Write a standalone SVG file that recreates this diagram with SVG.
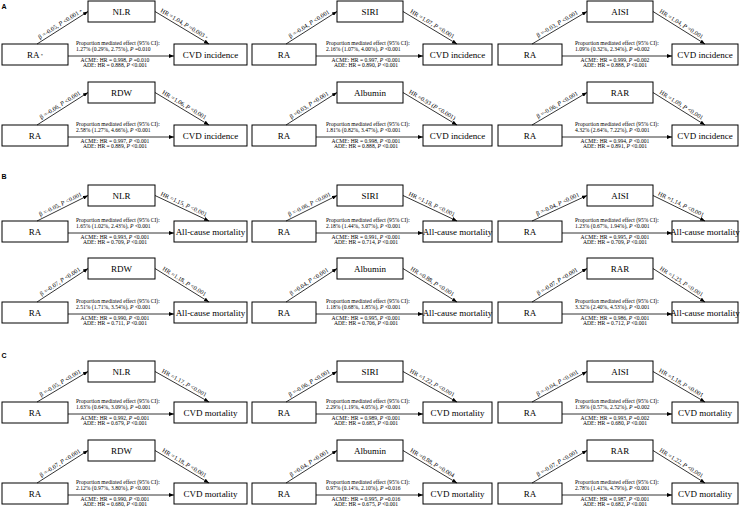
<svg xmlns="http://www.w3.org/2000/svg" width="740" height="510" viewBox="0 0 740 510">
<style>
.box{fill:#fff;stroke:#000;stroke-width:1}
.lbl{font-family:"Liberation Serif","Times New Roman",serif;font-size:9px;text-anchor:middle;fill:#000}
.t{font-family:"Liberation Serif","Times New Roman",serif;font-size:5.6px;fill:#000}
.c{text-anchor:middle}
.ar{font-size:6.2px}
.i{font-style:italic}
.m{font-size:4.5px}
.arr{stroke:#000;stroke-width:0.8;fill:none;marker-end:url(#ah)}
.sec{font-family:"Liberation Sans",Arial,sans-serif;font-weight:bold;font-size:7px;fill:#000}
</style>
<defs>
<marker id="ah" markerUnits="userSpaceOnUse" markerWidth="5" markerHeight="4" refX="5" refY="2" orient="auto">
<path d="M0,0 L5,2 L0,4 Z" fill="#000"/>
</marker>
</defs>

<!-- section letters -->
<text class="sec" x="1.5" y="8.5">A</text>
<text class="sec" x="1.5" y="178.5">B</text>
<text class="sec" x="1.5" y="357.5">C</text>

<!-- ===== A: CVD incidence ===== -->
<g id="a11">
<g id="a11-ra"><rect class="box" x="2" y="44" width="66" height="21"/><text class="lbl" x="35" y="57.7">RA<tspan class="m" dx="1" dy="-0.5">*</tspan></text></g>
<g id="a11-med"><rect class="box" x="88" y="1" width="67" height="21"/><text class="lbl" x="121.5" y="14.7">NLR</text></g>
<g id="a11-out"><rect class="box" x="174" y="44" width="73" height="21"/><text class="lbl" x="210.5" y="57.7">CVD incidence</text></g>
<g id="a11-links">
<path id="a11-p1" class="arr" d="M37,44 L88,11.5"/>
<path id="a11-p2" class="arr" d="M155,11.5 L209,44"/>
<path class="arr" d="M68,56 L174,56"/>
<text class="t ar"><textPath href="#a11-p1" startOffset="50%" text-anchor="middle"><tspan dy="-2.5">β =-0.05, <tspan class="i">P</tspan> &lt;0.001 <tspan class="m">*</tspan></tspan></textPath></text>
<text class="t ar"><textPath href="#a11-p2" startOffset="50%" text-anchor="middle"><tspan dy="-2.5">HR =1.04, <tspan class="i">P</tspan> =0.003 <tspan class="m">*</tspan></tspan></textPath></text>
<text class="t" x="76" y="44.8">Proportion mediated effect (95% CI):</text>
<text class="t" x="76" y="50.6">1.27% (0.29%, 2.75%), <tspan class="i">P</tspan> =0.010</text>
<text class="t c" x="115" y="61.8">ACME: HR = 0.998, <tspan class="i">P</tspan> =0.010</text>
<text class="t c" x="115" y="67">ADE: HR = 0.888, <tspan class="i">P</tspan> &lt;0.001</text>
</g>
</g>

<g id="a12">
<g id="a12-ra"><rect class="box" x="252" y="44" width="64" height="21"/><text class="lbl" x="284" y="57.7">RA</text></g>
<g id="a12-med"><rect class="box" x="337" y="1" width="66" height="21"/><text class="lbl" x="370" y="14.7">SIRI</text></g>
<g id="a12-out"><rect class="box" x="423" y="44" width="69" height="21"/><text class="lbl" x="457.5" y="57.7">CVD incidence</text></g>
<g id="a12-links">
<path id="a12-p1" class="arr" d="M286,44 L337,11.5"/>
<path id="a12-p2" class="arr" d="M403,11.5 L457,44"/>
<path class="arr" d="M316,56 L423,56"/>
<text class="t ar"><textPath href="#a12-p1" startOffset="50%" text-anchor="middle"><tspan dy="-2.5">β =-0.04, <tspan class="i">P</tspan> &lt;0.001</tspan></textPath></text>
<text class="t ar"><textPath href="#a12-p2" startOffset="50%" text-anchor="middle"><tspan dy="-2.5">HR =1.07, <tspan class="i">P</tspan> &lt;0.001</tspan></textPath></text>
<text class="t" x="326" y="44.8">Proportion mediated effect (95% CI):</text>
<text class="t" x="326" y="50.6">2.16% (1.07%, 4.00%), <tspan class="i">P</tspan> &lt;0.001</text>
<text class="t c" x="366" y="61.8">ACME: HR = 0.997, <tspan class="i">P</tspan> &lt;0.001</text>
<text class="t c" x="366" y="67">ADE: HR = 0.890, <tspan class="i">P</tspan> &lt;0.001</text>
</g>
</g>

<g id="a13">
<g id="a13-ra"><rect class="box" x="498" y="44" width="64" height="21"/><text class="lbl" x="530" y="57.7">RA</text></g>
<g id="a13-med"><rect class="box" x="587" y="1" width="66" height="21"/><text class="lbl" x="620" y="14.7">AISI</text></g>
<g id="a13-out"><rect class="box" x="672" y="44" width="66" height="21"/><text class="lbl" x="705" y="57.7">CVD incidence</text></g>
<g id="a13-links">
<path id="a13-p1" class="arr" d="M532,44 L587,11.5"/>
<path id="a13-p2" class="arr" d="M653,11.5 L705,44"/>
<path class="arr" d="M562,56 L672,56"/>
<text class="t ar"><textPath href="#a13-p1" startOffset="50%" text-anchor="middle"><tspan dy="-2.5">β =-0.03, <tspan class="i">P</tspan> &lt;0.001</tspan></textPath></text>
<text class="t ar"><textPath href="#a13-p2" startOffset="50%" text-anchor="middle"><tspan dy="-2.5">HR =1.04, <tspan class="i">P</tspan> =0.001</tspan></textPath></text>
<text class="t" x="575" y="44.8">Proportion mediated effect (95% CI):</text>
<text class="t" x="575" y="50.6">1.09% (0.32%, 2.34%), <tspan class="i">P</tspan> =0.002</text>
<text class="t c" x="615" y="61.8">ACME: HR = 0.999, <tspan class="i">P</tspan> =0.002</text>
<text class="t c" x="615" y="67">ADE: HR = 0.888, <tspan class="i">P</tspan> &lt;0.001</text>
</g>
</g>

<g id="a21">
<g id="a21-ra"><rect class="box" x="2" y="125" width="66" height="21"/><text class="lbl" x="35" y="138.7">RA</text></g>
<g id="a21-med"><rect class="box" x="88" y="82" width="67" height="21"/><text class="lbl" x="121.5" y="95.7">RDW</text></g>
<g id="a21-out"><rect class="box" x="174" y="125" width="73" height="21"/><text class="lbl" x="210.5" y="138.7">CVD incidence</text></g>
<g id="a21-links">
<path id="a21-p1" class="arr" d="M37,125 L88,92.5"/>
<path id="a21-p2" class="arr" d="M155,92.5 L209,125"/>
<path class="arr" d="M68,137 L174,137"/>
<text class="t ar"><textPath href="#a21-p1" startOffset="50%" text-anchor="middle"><tspan dy="-2.5">β =-0.06, <tspan class="i">P</tspan> &lt;0.001</tspan></textPath></text>
<text class="t ar"><textPath href="#a21-p2" startOffset="50%" text-anchor="middle"><tspan dy="-2.5">HR =1.06, <tspan class="i">P</tspan> &lt;0.001</tspan></textPath></text>
<text class="t" x="76" y="125.8">Proportion mediated effect (95% CI):</text>
<text class="t" x="76" y="131.6">2.58% (1.27%, 4.66%), <tspan class="i">P</tspan> &lt;0.001</text>
<text class="t c" x="115" y="142.8">ACME: HR = 0.997, <tspan class="i">P</tspan> &lt;0.001</text>
<text class="t c" x="115" y="148">ADE: HR = 0.889, <tspan class="i">P</tspan> &lt;0.001</text>
</g>
</g>

<g id="a22">
<g id="a22-ra"><rect class="box" x="252" y="125" width="64" height="21"/><text class="lbl" x="284" y="138.7">RA</text></g>
<g id="a22-med"><rect class="box" x="337" y="82" width="66" height="21"/><text class="lbl" x="370" y="95.7">Albumin</text></g>
<g id="a22-out"><rect class="box" x="423" y="125" width="69" height="21"/><text class="lbl" x="457.5" y="138.7">CVD incidence</text></g>
<g id="a22-links">
<path id="a22-p1" class="arr" d="M286,125 L337,92.5"/>
<path id="a22-p2" class="arr" d="M403,92.5 L457,125"/>
<path class="arr" d="M316,137 L423,137"/>
<text class="t ar"><textPath href="#a22-p1" startOffset="50%" text-anchor="middle"><tspan dy="-2.5">β =0.03, <tspan class="i">P</tspan> &lt;0.001</tspan></textPath></text>
<text class="t ar"><textPath href="#a22-p2" startOffset="50%" text-anchor="middle"><tspan dy="-2.5">HR =0.93 (<tspan class="i">P</tspan> &lt;0.001)</tspan></textPath></text>
<text class="t" x="326" y="125.8">Proportion mediated effect (95% CI):</text>
<text class="t" x="326" y="131.6">1.81% (0.82%, 3.47%), <tspan class="i">P</tspan> &lt;0.001</text>
<text class="t c" x="366" y="142.8">ACME: HR = 0.998, <tspan class="i">P</tspan> &lt;0.001</text>
<text class="t c" x="366" y="148">ADE: HR = 0.888, <tspan class="i">P</tspan> &lt;0.001</text>
</g>
</g>

<g id="a23">
<g id="a23-ra"><rect class="box" x="498" y="125" width="64" height="21"/><text class="lbl" x="530" y="138.7">RA</text></g>
<g id="a23-med"><rect class="box" x="587" y="82" width="66" height="21"/><text class="lbl" x="620" y="95.7">RAR</text></g>
<g id="a23-out"><rect class="box" x="672" y="125" width="66" height="21"/><text class="lbl" x="705" y="138.7">CVD incidence</text></g>
<g id="a23-links">
<path id="a23-p1" class="arr" d="M532,125 L587,92.5"/>
<path id="a23-p2" class="arr" d="M653,92.5 L705,125"/>
<path class="arr" d="M562,137 L672,137"/>
<text class="t ar"><textPath href="#a23-p1" startOffset="50%" text-anchor="middle"><tspan dy="-2.5">β =-0.06, <tspan class="i">P</tspan> &lt;0.001</tspan></textPath></text>
<text class="t ar"><textPath href="#a23-p2" startOffset="50%" text-anchor="middle"><tspan dy="-2.5">HR =1.09, <tspan class="i">P</tspan> &lt;0.001</tspan></textPath></text>
<text class="t" x="575" y="125.8">Proportion mediated effect (95% CI):</text>
<text class="t" x="575" y="131.6">4.32% (2.64%, 7.22%), <tspan class="i">P</tspan> &lt;0.001</text>
<text class="t c" x="615" y="142.8">ACME: HR = 0.994, <tspan class="i">P</tspan> &lt;0.001</text>
<text class="t c" x="615" y="148">ADE: HR = 0.891, <tspan class="i">P</tspan> &lt;0.001</text>
</g>
</g>

<!-- ===== B: all-cause mortality ===== -->
<g id="b11">
<g id="b11-ra"><rect class="box" x="2" y="221" width="66" height="21"/><text class="lbl" x="35" y="234.7">RA</text></g>
<g id="b11-med"><rect class="box" x="88" y="185" width="67" height="21"/><text class="lbl" x="121.5" y="198.7">NLR</text></g>
<g id="b11-out"><rect class="box" x="174" y="221" width="73" height="21"/><text class="lbl" x="210.5" y="234.7">All-cause mortality</text></g>
<g id="b11-links">
<path id="b11-p1" class="arr" d="M37,221 L88,195.5"/>
<path id="b11-p2" class="arr" d="M155,195.5 L209,221"/>
<path class="arr" d="M68,233 L174,233"/>
<text class="t ar"><textPath href="#b11-p1" startOffset="50%" text-anchor="middle"><tspan dy="-2.5">β =-0.05, <tspan class="i">P</tspan> &lt;0.001</tspan></textPath></text>
<text class="t ar"><textPath href="#b11-p2" startOffset="50%" text-anchor="middle"><tspan dy="-2.5">HR =1.15, <tspan class="i">P</tspan> &lt;0.001</tspan></textPath></text>
<text class="t" x="76" y="221.8">Proportion mediated effect (95% CI):</text>
<text class="t" x="76" y="227.6">1.65% (1.02%, 2.43%), <tspan class="i">P</tspan> &lt;0.001</text>
<text class="t c" x="115" y="238.8">ACME: HR = 0.993, <tspan class="i">P</tspan> &lt;0.001</text>
<text class="t c" x="115" y="244">ADE: HR = 0.709, <tspan class="i">P</tspan> &lt;0.001</text>
</g>
</g>

<g id="b12">
<g id="b12-ra"><rect class="box" x="252" y="221" width="64" height="21"/><text class="lbl" x="284" y="234.7">RA</text></g>
<g id="b12-med"><rect class="box" x="337" y="185" width="66" height="21"/><text class="lbl" x="370" y="198.7">SIRI</text></g>
<g id="b12-out"><rect class="box" x="423" y="221" width="69" height="21"/><text class="lbl" x="457.5" y="234.7">All-cause mortality</text></g>
<g id="b12-links">
<path id="b12-p1" class="arr" d="M286,221 L337,195.5"/>
<path id="b12-p2" class="arr" d="M403,195.5 L457,221"/>
<path class="arr" d="M316,233 L423,233"/>
<text class="t ar"><textPath href="#b12-p1" startOffset="50%" text-anchor="middle"><tspan dy="-2.5">β =-0.06, <tspan class="i">P</tspan> &lt;0.001</tspan></textPath></text>
<text class="t ar"><textPath href="#b12-p2" startOffset="50%" text-anchor="middle"><tspan dy="-2.5">HR =1.18, <tspan class="i">P</tspan> &lt;0.001</tspan></textPath></text>
<text class="t" x="326" y="221.8">Proportion mediated effect (95% CI):</text>
<text class="t" x="326" y="227.6">2.18% (1.44%, 3.07%), <tspan class="i">P</tspan> &lt;0.001</text>
<text class="t c" x="366" y="238.8">ACME: HR = 0.991, <tspan class="i">P</tspan> &lt;0.001</text>
<text class="t c" x="366" y="244">ADE: HR = 0.714, <tspan class="i">P</tspan> &lt;0.001</text>
</g>
</g>

<g id="b13">
<g id="b13-ra"><rect class="box" x="498" y="221" width="64" height="21"/><text class="lbl" x="530" y="234.7">RA</text></g>
<g id="b13-med"><rect class="box" x="587" y="185" width="66" height="21"/><text class="lbl" x="620" y="198.7">AISI</text></g>
<g id="b13-out"><rect class="box" x="672" y="221" width="66" height="21"/><text class="lbl" x="705" y="234.7">All-cause mortality</text></g>
<g id="b13-links">
<path id="b13-p1" class="arr" d="M532,221 L587,195.5"/>
<path id="b13-p2" class="arr" d="M653,195.5 L705,221"/>
<path class="arr" d="M562,233 L672,233"/>
<text class="t ar"><textPath href="#b13-p1" startOffset="50%" text-anchor="middle"><tspan dy="-2.5">β =-0.04, <tspan class="i">P</tspan> &lt;0.001</tspan></textPath></text>
<text class="t ar"><textPath href="#b13-p2" startOffset="50%" text-anchor="middle"><tspan dy="-2.5">HR =1.14, <tspan class="i">P</tspan> &lt;0.001</tspan></textPath></text>
<text class="t" x="575" y="221.8">Proportion mediated effect (95% CI):</text>
<text class="t" x="575" y="227.6">1.23% (0.67%, 1.94%), <tspan class="i">P</tspan> &lt;0.001</text>
<text class="t c" x="615" y="238.8">ACME: HR = 0.995, <tspan class="i">P</tspan> &lt;0.001</text>
<text class="t c" x="615" y="244">ADE: HR = 0.709, <tspan class="i">P</tspan> &lt;0.001</text>
</g>
</g>

<g id="b21">
<g id="b21-ra"><rect class="box" x="2" y="302" width="66" height="21"/><text class="lbl" x="35" y="315.7">RA</text></g>
<g id="b21-med"><rect class="box" x="88" y="258" width="67" height="21"/><text class="lbl" x="121.5" y="271.7">RDW</text></g>
<g id="b21-out"><rect class="box" x="174" y="302" width="73" height="21"/><text class="lbl" x="210.5" y="315.7">All-cause mortality</text></g>
<g id="b21-links">
<path id="b21-p1" class="arr" d="M37,302 L88,268.5"/>
<path id="b21-p2" class="arr" d="M155,268.5 L209,302"/>
<path class="arr" d="M68,314 L174,314"/>
<text class="t ar"><textPath href="#b21-p1" startOffset="50%" text-anchor="middle"><tspan dy="-2.5">β =-0.07, <tspan class="i">P</tspan> &lt;0.001</tspan></textPath></text>
<text class="t ar"><textPath href="#b21-p2" startOffset="50%" text-anchor="middle"><tspan dy="-2.5">HR =1.18, <tspan class="i">P</tspan> &lt;0.001</tspan></textPath></text>
<text class="t" x="76" y="302.8">Proportion mediated effect (95% CI):</text>
<text class="t" x="76" y="308.6">2.51% (1.71%, 3.54%), <tspan class="i">P</tspan> &lt;0.001</text>
<text class="t c" x="115" y="319.8">ACME: HR = 0.990, <tspan class="i">P</tspan> &lt;0.001</text>
<text class="t c" x="115" y="325">ADE: HR = 0.711, <tspan class="i">P</tspan> &lt;0.001</text>
</g>
</g>

<g id="b22">
<g id="b22-ra"><rect class="box" x="252" y="302" width="64" height="21"/><text class="lbl" x="284" y="315.7">RA</text></g>
<g id="b22-med"><rect class="box" x="337" y="258" width="66" height="21"/><text class="lbl" x="370" y="271.7">Albumin</text></g>
<g id="b22-out"><rect class="box" x="423" y="302" width="69" height="21"/><text class="lbl" x="457.5" y="315.7">All-cause mortality</text></g>
<g id="b22-links">
<path id="b22-p1" class="arr" d="M286,302 L337,268.5"/>
<path id="b22-p2" class="arr" d="M403,268.5 L457,302"/>
<path class="arr" d="M316,314 L423,314"/>
<text class="t ar"><textPath href="#b22-p1" startOffset="50%" text-anchor="middle"><tspan dy="-2.5">β =0.04, <tspan class="i">P</tspan> &lt;0.001</tspan></textPath></text>
<text class="t ar"><textPath href="#b22-p2" startOffset="50%" text-anchor="middle"><tspan dy="-2.5">HR =0.88, <tspan class="i">P</tspan> &lt;0.001</tspan></textPath></text>
<text class="t" x="326" y="302.8">Proportion mediated effect (95% CI):</text>
<text class="t" x="326" y="308.6">1.18% (0.68%, 1.85%), <tspan class="i">P</tspan> &lt;0.001</text>
<text class="t c" x="366" y="319.8">ACME: HR = 0.995, <tspan class="i">P</tspan> &lt;0.001</text>
<text class="t c" x="366" y="325">ADE: HR = 0.706, <tspan class="i">P</tspan> &lt;0.001</text>
</g>
</g>

<g id="b23">
<g id="b23-ra"><rect class="box" x="498" y="302" width="64" height="21"/><text class="lbl" x="530" y="315.7">RA</text></g>
<g id="b23-med"><rect class="box" x="587" y="258" width="66" height="21"/><text class="lbl" x="620" y="271.7">RAR</text></g>
<g id="b23-out"><rect class="box" x="672" y="302" width="66" height="21"/><text class="lbl" x="705" y="315.7">All-cause mortality</text></g>
<g id="b23-links">
<path id="b23-p1" class="arr" d="M532,302 L587,268.5"/>
<path id="b23-p2" class="arr" d="M653,268.5 L705,302"/>
<path class="arr" d="M562,314 L672,314"/>
<text class="t ar"><textPath href="#b23-p1" startOffset="50%" text-anchor="middle"><tspan dy="-2.5">β =-0.07, <tspan class="i">P</tspan> &lt;0.001</tspan></textPath></text>
<text class="t ar"><textPath href="#b23-p2" startOffset="50%" text-anchor="middle"><tspan dy="-2.5">HR =1.23, <tspan class="i">P</tspan> &lt;0.001</tspan></textPath></text>
<text class="t" x="575" y="302.8">Proportion mediated effect (95% CI):</text>
<text class="t" x="575" y="308.6">3.32% (2.40%, 4.53%), <tspan class="i">P</tspan> &lt;0.001</text>
<text class="t c" x="615" y="319.8">ACME: HR = 0.986, <tspan class="i">P</tspan> &lt;0.001</text>
<text class="t c" x="615" y="325">ADE: HR = 0.712, <tspan class="i">P</tspan> &lt;0.001</text>
</g>
</g>

<!-- ===== C: CVD mortality ===== -->
<g id="c11">
<g id="c11-ra"><rect class="box" x="2" y="402" width="66" height="21"/><text class="lbl" x="35" y="415.7">RA</text></g>
<g id="c11-med"><rect class="box" x="88" y="361" width="67" height="21"/><text class="lbl" x="121.5" y="374.7">NLR</text></g>
<g id="c11-out"><rect class="box" x="174" y="402" width="73" height="21"/><text class="lbl" x="210.5" y="415.7">CVD mortality</text></g>
<g id="c11-links">
<path id="c11-p1" class="arr" d="M37,402 L88,371.5"/>
<path id="c11-p2" class="arr" d="M155,371.5 L209,402"/>
<path class="arr" d="M68,414 L174,414"/>
<text class="t ar"><textPath href="#c11-p1" startOffset="50%" text-anchor="middle"><tspan dy="-2.5">β =-0.05, <tspan class="i">P</tspan> &lt;0.001</tspan></textPath></text>
<text class="t ar"><textPath href="#c11-p2" startOffset="50%" text-anchor="middle"><tspan dy="-2.5">HR =1.17, <tspan class="i">P</tspan> &lt;0.001</tspan></textPath></text>
<text class="t" x="76" y="402.8">Proportion mediated effect (95% CI):</text>
<text class="t" x="76" y="408.6">1.63% (0.64%, 3.09%), <tspan class="i">P</tspan> =0.001</text>
<text class="t c" x="115" y="419.8">ACME: HR = 0.992, <tspan class="i">P</tspan> =0.001</text>
<text class="t c" x="115" y="425">ADE: HR = 0.679, <tspan class="i">P</tspan> &lt;0.001</text>
</g>
</g>

<g id="c12">
<g id="c12-ra"><rect class="box" x="252" y="402" width="64" height="21"/><text class="lbl" x="284" y="415.7">RA</text></g>
<g id="c12-med"><rect class="box" x="337" y="361" width="66" height="21"/><text class="lbl" x="370" y="374.7">SIRI</text></g>
<g id="c12-out"><rect class="box" x="423" y="402" width="69" height="21"/><text class="lbl" x="457.5" y="415.7">CVD mortality</text></g>
<g id="c12-links">
<path id="c12-p1" class="arr" d="M286,402 L337,371.5"/>
<path id="c12-p2" class="arr" d="M403,371.5 L457,402"/>
<path class="arr" d="M316,414 L423,414"/>
<text class="t ar"><textPath href="#c12-p1" startOffset="50%" text-anchor="middle"><tspan dy="-2.5">β =-0.06, <tspan class="i">P</tspan> &lt;0.001</tspan></textPath></text>
<text class="t ar"><textPath href="#c12-p2" startOffset="50%" text-anchor="middle"><tspan dy="-2.5">HR =1.22, <tspan class="i">P</tspan> &lt;0.001</tspan></textPath></text>
<text class="t" x="326" y="402.8">Proportion mediated effect (95% CI):</text>
<text class="t" x="326" y="408.6">2.29% (1.19%, 4.05%), <tspan class="i">P</tspan> &lt;0.001</text>
<text class="t c" x="366" y="419.8">ACME: HR = 0.989, <tspan class="i">P</tspan> &lt;0.001</text>
<text class="t c" x="366" y="425">ADE: HR = 0.685, <tspan class="i">P</tspan> &lt;0.001</text>
</g>
</g>

<g id="c13">
<g id="c13-ra"><rect class="box" x="498" y="402" width="64" height="21"/><text class="lbl" x="530" y="415.7">RA</text></g>
<g id="c13-med"><rect class="box" x="587" y="361" width="66" height="21"/><text class="lbl" x="620" y="374.7">AISI</text></g>
<g id="c13-out"><rect class="box" x="672" y="402" width="66" height="21"/><text class="lbl" x="705" y="415.7">CVD mortality</text></g>
<g id="c13-links">
<path id="c13-p1" class="arr" d="M532,402 L587,371.5"/>
<path id="c13-p2" class="arr" d="M653,371.5 L705,402"/>
<path class="arr" d="M562,414 L672,414"/>
<text class="t ar"><textPath href="#c13-p1" startOffset="50%" text-anchor="middle"><tspan dy="-2.5">β =-0.04, <tspan class="i">P</tspan> &lt;0.001</tspan></textPath></text>
<text class="t ar"><textPath href="#c13-p2" startOffset="50%" text-anchor="middle"><tspan dy="-2.5">HR =1.18, <tspan class="i">P</tspan> &lt;0.001</tspan></textPath></text>
<text class="t" x="575" y="402.8">Proportion mediated effect (95% CI):</text>
<text class="t" x="575" y="408.6">1.39% (0.57%, 2.52%), <tspan class="i">P</tspan> =0.002</text>
<text class="t c" x="615" y="419.8">ACME: HR = 0.993, <tspan class="i">P</tspan> =0.002</text>
<text class="t c" x="615" y="425">ADE: HR = 0.680, <tspan class="i">P</tspan> &lt;0.001</text>
</g>
</g>

<g id="c21">
<g id="c21-ra"><rect class="box" x="2" y="483" width="66" height="21"/><text class="lbl" x="35" y="496.7">RA</text></g>
<g id="c21-med"><rect class="box" x="88" y="440" width="67" height="21"/><text class="lbl" x="121.5" y="453.7">RDW</text></g>
<g id="c21-out"><rect class="box" x="174" y="483" width="73" height="21"/><text class="lbl" x="210.5" y="496.7">CVD mortality</text></g>
<g id="c21-links">
<path id="c21-p1" class="arr" d="M37,483 L88,450.5"/>
<path id="c21-p2" class="arr" d="M155,450.5 L209,483"/>
<path class="arr" d="M68,495 L174,495"/>
<text class="t ar"><textPath href="#c21-p1" startOffset="50%" text-anchor="middle"><tspan dy="-2.5">β =-0.07, <tspan class="i">P</tspan> &lt;0.001</tspan></textPath></text>
<text class="t ar"><textPath href="#c21-p2" startOffset="50%" text-anchor="middle"><tspan dy="-2.5">HR =1.18, <tspan class="i">P</tspan> &lt;0.001</tspan></textPath></text>
<text class="t" x="76" y="483.8">Proportion mediated effect (95% CI):</text>
<text class="t" x="76" y="489.6">2.12% (0.97%, 3.80%), <tspan class="i">P</tspan> &lt;0.001</text>
<text class="t c" x="115" y="500.8">ACME: HR = 0.990, <tspan class="i">P</tspan> &lt;0.001</text>
<text class="t c" x="115" y="506">ADE: HR = 0.680, <tspan class="i">P</tspan> &lt;0.001</text>
</g>
</g>

<g id="c22">
<g id="c22-ra"><rect class="box" x="252" y="483" width="64" height="21"/><text class="lbl" x="284" y="496.7">RA</text></g>
<g id="c22-med"><rect class="box" x="337" y="440" width="66" height="21"/><text class="lbl" x="370" y="453.7">Albumin</text></g>
<g id="c22-out"><rect class="box" x="423" y="483" width="69" height="21"/><text class="lbl" x="457.5" y="496.7">CVD mortality</text></g>
<g id="c22-links">
<path id="c22-p1" class="arr" d="M286,483 L337,450.5"/>
<path id="c22-p2" class="arr" d="M403,450.5 L457,483"/>
<path class="arr" d="M316,495 L423,495"/>
<text class="t ar"><textPath href="#c22-p1" startOffset="50%" text-anchor="middle"><tspan dy="-2.5">β =0.04, <tspan class="i">P</tspan> &lt;0.001</tspan></textPath></text>
<text class="t ar"><textPath href="#c22-p2" startOffset="50%" text-anchor="middle"><tspan dy="-2.5">HR =0.88, <tspan class="i">P</tspan> =0.004</tspan></textPath></text>
<text class="t" x="326" y="483.8">Proportion mediated effect (95% CI):</text>
<text class="t" x="326" y="489.6">0.97% (0.14%, 2.10%), <tspan class="i">P</tspan> =0.016</text>
<text class="t c" x="366" y="500.8">ACME: HR = 0.995, <tspan class="i">P</tspan> =0.016</text>
<text class="t c" x="366" y="506">ADE: HR = 0.675, <tspan class="i">P</tspan> &lt;0.001</text>
</g>
</g>

<g id="c23">
<g id="c23-ra"><rect class="box" x="498" y="483" width="64" height="21"/><text class="lbl" x="530" y="496.7">RA</text></g>
<g id="c23-med"><rect class="box" x="587" y="440" width="66" height="21"/><text class="lbl" x="620" y="453.7">RAR</text></g>
<g id="c23-out"><rect class="box" x="672" y="483" width="66" height="21"/><text class="lbl" x="705" y="496.7">CVD mortality</text></g>
<g id="c23-links">
<path id="c23-p1" class="arr" d="M532,483 L587,450.5"/>
<path id="c23-p2" class="arr" d="M653,450.5 L705,483"/>
<path class="arr" d="M562,495 L672,495"/>
<text class="t ar"><textPath href="#c23-p1" startOffset="50%" text-anchor="middle"><tspan dy="-2.5">β =-0.07, <tspan class="i">P</tspan> &lt;0.001</tspan></textPath></text>
<text class="t ar"><textPath href="#c23-p2" startOffset="50%" text-anchor="middle"><tspan dy="-2.5">HR =1.22, <tspan class="i">P</tspan> &lt;0.001</tspan></textPath></text>
<text class="t" x="575" y="483.8">Proportion mediated effect (95% CI):</text>
<text class="t" x="575" y="489.6">2.78% (1.41%, 4.79%), <tspan class="i">P</tspan> &lt;0.001</text>
<text class="t c" x="615" y="500.8">ACME: HR = 0.987, <tspan class="i">P</tspan> &lt;0.001</text>
<text class="t c" x="615" y="506">ADE: HR = 0.682, <tspan class="i">P</tspan> &lt;0.001</text>
</g>
</g>
</svg>
